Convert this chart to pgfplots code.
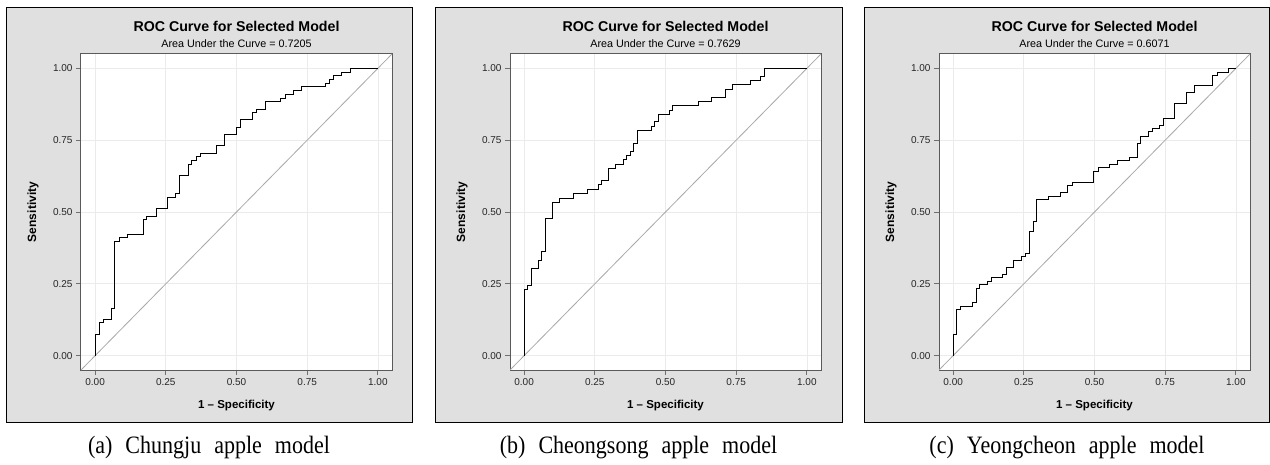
\documentclass[border=0pt]{standalone}
\usepackage{pgfplots}
\pgfplotsset{compat=1.18}
\usepackage{graphicx}
\usepackage{fontspec}
\setmainfont{Liberation Serif}
\newfontfamily\arial{Liberation Sans}
\definecolor{panelbg}{HTML}{E0E0E0}
\definecolor{gridgray}{HTML}{EBEBEB}
\definecolor{framegray}{HTML}{5A5A5A}
\definecolor{diaggray}{HTML}{A8A8A8}
\definecolor{tickgray}{HTML}{707070}

\pgfplotstableread{
x y
0 0
0 0.0744
0.0143 0.0744
0.0143 0.1140
0.0285 0.1140
0.0285 0.1256
0.0571 0.1256
0.0571 0.1651
0.0690 0.1651
0.0690 0.3977
0.0844 0.3977
0.0844 0.4105
0.1142 0.4105
0.1142 0.4233
0.1712 0.4233
0.1712 0.4744
0.1831 0.4744
0.1831 0.4860
0.2152 0.4860
0.2152 0.5128
0.2568 0.5128
0.2568 0.5500
0.2830 0.5500
0.2830 0.5651
0.2996 0.5651
0.2996 0.6279
0.3294 0.6279
0.3294 0.6663
0.3401 0.6663
0.3401 0.6791
0.3567 0.6791
0.3567 0.6919
0.3710 0.6919
0.3710 0.7035
0.4293 0.7035
0.4293 0.7302
0.4566 0.7302
0.4566 0.7698
0.4994 0.7698
0.4994 0.7942
0.5137 0.7942
0.5137 0.8209
0.5565 0.8209
0.5565 0.8453
0.5707 0.8453
0.5707 0.8581
0.6017 0.8581
0.6017 0.8849
0.6564 0.8849
0.6564 0.8965
0.6718 0.8965
0.6718 0.9093
0.7027 0.9093
0.7027 0.9233
0.7289 0.9233
0.7289 0.9360
0.8157 0.9360
0.8157 0.9477
0.8276 0.9477
0.8276 0.9605
0.8430 0.9605
0.8430 0.9756
0.8716 0.9756
0.8716 0.9872
0.9013 0.9872
0.9013 1.0
1.0 1.0
}\rocA

\pgfplotstableread{
x y
0 0
0 0.2302
0.0118 0.2302
0.0118 0.2442
0.0249 0.2442
0.0249 0.3035
0.0498 0.3035
0.0498 0.3314
0.0616 0.3314
0.0616 0.3616
0.0758 0.3616
0.0758 0.4767
0.0995 0.4767
0.0995 0.5337
0.1256 0.5337
0.1256 0.5488
0.1754 0.5488
0.1754 0.5640
0.2251 0.5640
0.2251 0.5791
0.2630 0.5791
0.2630 0.5953
0.2749 0.5953
0.2749 0.6105
0.2998 0.6105
0.2998 0.6523
0.3246 0.6523
0.3246 0.6663
0.3507 0.6663
0.3507 0.6826
0.3626 0.6826
0.3626 0.6953
0.3744 0.6953
0.3744 0.7105
0.3874 0.7105
0.3874 0.7395
0.3993 0.7395
0.3993 0.7826
0.4514 0.7826
0.4514 0.7977
0.4609 0.7977
0.4609 0.8140
0.4751 0.8140
0.4751 0.8407
0.5142 0.8407
0.5142 0.8547
0.5261 0.8547
0.5261 0.8698
0.6149 0.8698
0.6149 0.8849
0.6623 0.8849
0.6623 0.9000
0.7133 0.9000
0.7133 0.9279
0.7370 0.9279
0.7370 0.9430
0.8009 0.9430
0.8009 0.9570
0.8365 0.9570
0.8365 0.9721
0.8507 0.9721
0.8507 1.0
1.0 1.0
}\rocB

\pgfplotstableread{
x y
0 0
0 0.0721
0.0118 0.0721
0.0118 0.1605
0.0273 0.1605
0.0273 0.1709
0.0675 0.1709
0.0675 0.1837
0.0829 0.1837
0.0829 0.2337
0.0936 0.2337
0.0936 0.2477
0.1209 0.2477
0.1209 0.2593
0.1363 0.2593
0.1363 0.2709
0.1754 0.2709
0.1754 0.2837
0.1884 0.2837
0.1884 0.3070
0.2145 0.3070
0.2145 0.3314
0.2417 0.3314
0.2417 0.3442
0.2547 0.3442
0.2547 0.3570
0.2690 0.3570
0.2690 0.4314
0.2844 0.4314
0.2844 0.4674
0.2962 0.4674
0.2962 0.5430
0.3377 0.5430
0.3377 0.5547
0.3780 0.5547
0.3780 0.5674
0.4052 0.5674
0.4052 0.5919
0.4206 0.5919
0.4206 0.6035
0.4976 0.6035
0.4976 0.6419
0.5142 0.6419
0.5142 0.6547
0.5533 0.6547
0.5533 0.6663
0.5806 0.6663
0.5806 0.6791
0.6220 0.6791
0.6220 0.6907
0.6505 0.6907
0.6505 0.7395
0.6623 0.7395
0.6623 0.7640
0.6896 0.7640
0.6896 0.7791
0.7050 0.7791
0.7050 0.7907
0.7310 0.7907
0.7310 0.8023
0.7429 0.8023
0.7429 0.8267
0.7820 0.8267
0.7820 0.8767
0.8258 0.8767
0.8258 0.9151
0.8531 0.9151
0.8531 0.9395
0.9182 0.9395
0.9182 0.9756
0.9348 0.9756
0.9348 0.9872
0.9739 0.9872
0.9739 1.0
1.0 1.0
}\rocC

\pgfplotsset{
  rocaxis/.style={
    anchor=south west,
    scale only axis,
    width=311pt, height=316pt,
    xmin=-0.05, xmax=1.05, ymin=-0.05, ymax=1.05,
    axis background/.style={fill=white},
    xtick={0,0.25,0.5,0.75,1}, ytick={0,0.25,0.5,0.75,1},
    xticklabels={0.00,0.25,0.50,0.75,1.00},
    yticklabels={0.00,0.25,0.50,0.75,1.00},
    tick align=outside, major tick length=5pt,
    tick style={color=tickgray, line width=0.8pt},
    xtick pos=bottom, ytick pos=left,
    grid=major, major grid style={color=gridgray, line width=0.7pt},
    axis line style={color=framegray, line width=1pt},
    /pgf/number format/assume math mode=true,
    ticklabel style={font=\arial\fontsize{10}{11}\selectfont, color=black!85},
    xlabel={1 – Specificity},
    ylabel={Sensitivity},
    xlabel style={font=\arial\bfseries\fontsize{11.5}{13}\selectfont, at={(axis description cs:0.5,-0.113)}, anchor=center},
    ylabel style={font=\arial\bfseries\fontsize{12}{13}\selectfont, at={(axis description cs:-0.1543,0.5)}, anchor=center},
    clip mode=individual,
  },
  diag/.style={color=diaggray, line width=0.8pt},
  roc/.style={color=black, line width=0.9pt},
}

\newcommand{\roctitle}[1]{%
  \node[font=\arial\bfseries\fontsize{14.2}{16}\selectfont, anchor=center] at (rel axis cs:0.5,1) [yshift=27.3pt] {ROC Curve for Selected Model};
  \node[font=\arial\fontsize{10.8}{12}\selectfont, anchor=center] at (rel axis cs:0.5,1) [yshift=10pt] {Area Under the Curve = #1};
}

\newcommand{\capt}[1]{\fontsize{25}{29}\selectfont\scalebox{0.88}[1]{#1}}
\newcommand{\gap}{\hspace{14.8pt}}

\begin{document}
\begin{tikzpicture}[x=1pt,y=1pt]
\useasboundingbox (0,0) rectangle (1270,464);
\filldraw[fill=panelbg, draw=black, line width=0.9pt] (6,42) rectangle (412,457);
\filldraw[fill=panelbg, draw=black, line width=0.9pt] (435,42) rectangle (842,457);
\filldraw[fill=panelbg, draw=black, line width=0.9pt] (864,42) rectangle (1269.5,457);

\begin{axis}[rocaxis, at={(81pt,94pt)}]
\addplot[diag] coordinates {(-0.05,-0.05) (1.05,1.05)};
\addplot[roc] table[x=x,y=y] {\rocA};
\roctitle{0.7205}
\end{axis}

\begin{axis}[rocaxis, at={(510pt,94pt)}]
\addplot[diag] coordinates {(-0.05,-0.05) (1.05,1.05)};
\addplot[roc] table[x=x,y=y] {\rocB};
\roctitle{0.7629}
\end{axis}

\begin{axis}[rocaxis, at={(939pt,94pt)}]
\addplot[diag] coordinates {(-0.05,-0.05) (1.05,1.05)};
\addplot[roc] table[x=x,y=y] {\rocC};
\roctitle{0.6071}
\end{axis}

\node at (209,16) {\capt{(a)\gap Chungju\gap apple\gap model}};
\node at (638.5,16) {\capt{(b)\gap Cheongsong\gap apple\gap model}};
\node at (1067,16) {\capt{(c)\gap Yeongcheon\gap apple\gap model}};
\end{tikzpicture}
\end{document}
